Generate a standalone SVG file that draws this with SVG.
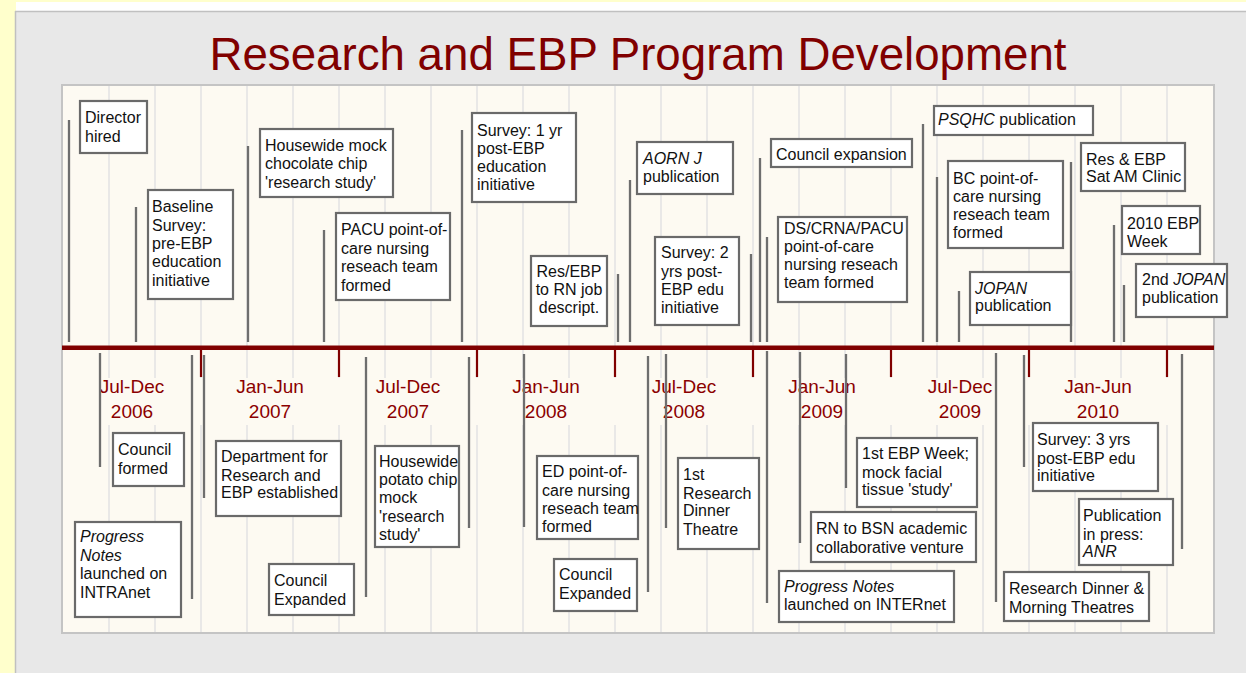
<svg xmlns="http://www.w3.org/2000/svg" width="1246" height="673" viewBox="0 0 1246 673">
<style>
.box{fill:#ffffff;stroke:#6a6a6a;stroke-width:2.2}
.t{font-family:"Liberation Sans",Arial,sans-serif;font-size:16px;fill:#111111}
.it{font-style:italic}
.c{text-anchor:middle}
.ev{stroke:#6e6e6e;stroke-width:2.3;fill:none}
.grid{stroke:#e4e4e4;stroke-width:1.6}
.tick{stroke:#800000;stroke-width:2.2}
.per{font-family:"Liberation Sans",Arial,sans-serif;font-size:19px;fill:#8b0000;text-anchor:middle}
</style>
<rect x="0" y="0" width="1246" height="673" fill="#ffffcc"/>
<rect x="16" y="2" width="1230" height="9" fill="#ffffff"/>
<rect x="16" y="12" width="1230" height="661" fill="#e8e8e8"/>
<line x1="15.5" y1="11" x2="15.5" y2="673" stroke="#c0c0c0" stroke-width="1.5"/>
<line x1="15" y1="11.5" x2="1246" y2="11.5" stroke="#c0c0c0" stroke-width="1.5"/>
<text x="209.5" y="70" textLength="857" lengthAdjust="spacingAndGlyphs" font-family="'Liberation Sans',Arial,sans-serif" font-size="47" fill="#800000">Research and EBP Program Development</text>
<g id="chart-area">
<rect x="62" y="85" width="1152" height="548" fill="#fdfaf2" stroke="#c4c4c4" stroke-width="2"/>
<g id="grid">
<path class="grid" d="M109 86V378M155 86V378M201 86V378M247 86V378M293 86V378M339 86V378M385 86V378M431 86V378M477 86V378M523 86V378M569 86V378M615 86V378M661 86V378M707 86V378M753 86V378M799 86V378M845 86V378M891 86V378M937 86V378M983 86V378M1029 86V378M1075 86V378M1121 86V378M1167 86V378"/>
<path class="grid" d="M109 425V632M155 425V632M201 425V632M247 425V632M293 425V632M339 425V632M385 425V632M431 425V632M477 425V632M523 425V632M569 425V632M615 425V632M661 425V632M707 425V632M753 425V632M799 425V632M845 425V632M891 425V632M937 425V632M983 425V632M1029 425V632M1075 425V632M1121 425V632M1167 425V632"/>
</g>
</g>
<g id="timeline">
<rect x="62" y="345.5" width="1152" height="4.5" fill="#800000"/>
<path class="tick" d="M201 348V377M339 348V377M477 348V377M615 348V377M753 348V377M891 348V377M1029 348V377M1167 348V377"/>
<text class="per" x="132" y="393">Jul-Dec</text><text class="per" x="132" y="418">2006</text>
<text class="per" x="270" y="393">Jan-Jun</text><text class="per" x="270" y="418">2007</text>
<text class="per" x="408" y="393">Jul-Dec</text><text class="per" x="408" y="418">2007</text>
<text class="per" x="546" y="393">Jan-Jun</text><text class="per" x="546" y="418">2008</text>
<text class="per" x="684" y="393">Jul-Dec</text><text class="per" x="684" y="418">2008</text>
<text class="per" x="822" y="393">Jan-Jun</text><text class="per" x="822" y="418">2009</text>
<text class="per" x="960" y="393">Jul-Dec</text><text class="per" x="960" y="418">2009</text>
<text class="per" x="1098" y="393">Jan-Jun</text><text class="per" x="1098" y="418">2010</text>
</g>
<g id="connectors">
<line class="ev" x1="69" y1="120" x2="69" y2="342"/>
<line class="ev" x1="136" y1="207" x2="136" y2="342"/>
<line class="ev" x1="248" y1="146" x2="248" y2="342"/>
<line class="ev" x1="324" y1="230" x2="324" y2="342"/>
<line class="ev" x1="462" y1="130" x2="462" y2="342"/>
<line class="ev" x1="618" y1="274" x2="618" y2="342"/>
<line class="ev" x1="630" y1="180" x2="630" y2="342"/>
<line class="ev" x1="751" y1="254" x2="751" y2="342"/>
<line class="ev" x1="760" y1="158" x2="760" y2="342"/>
<line class="ev" x1="767" y1="237" x2="767" y2="342"/>
<line class="ev" x1="923" y1="124" x2="923" y2="342"/>
<line class="ev" x1="937" y1="177" x2="937" y2="342"/>
<line class="ev" x1="959" y1="291" x2="959" y2="342"/>
<line class="ev" x1="1071" y1="162" x2="1071" y2="342"/>
<line class="ev" x1="1114" y1="225" x2="1114" y2="342"/>
<line class="ev" x1="1124" y1="285" x2="1124" y2="342"/>
<line class="ev" x1="100" y1="353" x2="100" y2="467"/>
<line class="ev" x1="192" y1="355" x2="192" y2="599"/>
<line class="ev" x1="204" y1="355" x2="204" y2="498"/>
<line class="ev" x1="366" y1="357" x2="366" y2="597"/>
<line class="ev" x1="469" y1="357" x2="469" y2="528"/>
<line class="ev" x1="524" y1="354" x2="524" y2="527"/>
<line class="ev" x1="648" y1="356" x2="648" y2="592"/>
<line class="ev" x1="666" y1="354" x2="666" y2="528"/>
<line class="ev" x1="767" y1="351" x2="767" y2="603"/>
<line class="ev" x1="800" y1="352" x2="800" y2="543"/>
<line class="ev" x1="846" y1="354" x2="846" y2="488"/>
<line class="ev" x1="996" y1="353" x2="996" y2="602"/>
<line class="ev" x1="1024" y1="355" x2="1024" y2="467"/>
<line class="ev" x1="1182" y1="354" x2="1182" y2="549"/>
</g>
<g id="n-director"><rect class="box" x="80" y="101" width="67" height="52"/><text class="t" x="85" y="123">Director</text><text class="t" x="85" y="141.5">hired</text></g>
<g id="n-baseline"><rect class="box" x="148" y="190" width="85" height="109"/><text class="t" x="152" y="212">Baseline</text><text class="t" x="152" y="231">Survey:</text><text class="t" x="152" y="249">pre-EBP</text><text class="t" x="152" y="267">education</text><text class="t" x="152" y="286">initiative</text></g>
<g id="n-chocolate"><rect class="box" x="260" y="129" width="133" height="68"/><text class="t" x="265" y="150.5">Housewide mock</text><text class="t" x="265" y="169">chocolate chip</text><text class="t" x="265" y="187.5">'research study'</text></g>
<g id="n-pacu"><rect class="box" x="336" y="213" width="114" height="87"/><text class="t" x="341" y="235">PACU point-of-</text><text class="t" x="341" y="254">care nursing</text><text class="t" x="341" y="272">reseach team</text><text class="t" x="341" y="290.5">formed</text></g>
<g id="n-survey1"><rect class="box" x="472" y="113" width="104" height="89"/><text class="t" x="477" y="136">Survey: 1 yr</text><text class="t" x="477" y="154">post-EBP</text><text class="t" x="477" y="172">education</text><text class="t" x="477" y="190">initiative</text></g>
<g id="n-resebp"><rect class="box" x="531" y="256" width="76" height="70"/><text class="t c" x="569" y="277">Res/EBP</text><text class="t c" x="569" y="295">to RN job</text><text class="t c" x="569" y="313">descript.</text></g>
<g id="n-aorn"><rect class="box" x="637" y="142" width="96" height="52"/><text class="t it" x="643" y="163.5">AORN J</text><text class="t" x="643" y="182">publication</text></g>
<g id="n-survey2"><rect class="box" x="655" y="237" width="84" height="88"/><text class="t" x="661" y="258">Survey: 2</text><text class="t" x="661" y="277">yrs post-</text><text class="t" x="661" y="294.5">EBP edu</text><text class="t" x="661" y="312.5">initiative</text></g>
<g id="n-council-expansion"><rect class="box" x="771" y="139" width="141" height="28"/><text class="t" x="776" y="160">Council expansion</text></g>
<g id="n-ds-crna-pacu"><rect class="box" x="778" y="217" width="129" height="85"/><text class="t" x="784" y="233.5">DS/CRNA/PACU</text><text class="t" x="784" y="252">point-of-care</text><text class="t" x="784" y="269.5">nursing reseach</text><text class="t" x="784" y="288">team formed</text></g>
<g id="n-psqhc"><rect class="box" x="934" y="106" width="159" height="29"/><text class="t" x="938" y="125"><tspan class="it">PSQHC</tspan> publication</text></g>
<g id="n-bc"><rect class="box" x="948" y="161" width="115" height="87"/><text class="t" x="953" y="183.5">BC point-of-</text><text class="t" x="953" y="202">care nursing</text><text class="t" x="953" y="219.5">reseach team</text><text class="t" x="953" y="237.5">formed</text></g>
<g id="n-jopan"><rect class="box" x="970" y="272" width="101" height="53"/><text class="t it" x="975" y="293.5">JOPAN</text><text class="t" x="975" y="311">publication</text></g>
<g id="n-sat-clinic"><rect class="box" x="1081" y="143" width="104" height="48"/><text class="t" x="1086" y="165">Res &amp; EBP</text><text class="t" x="1086" y="182">Sat AM Clinic</text></g>
<g id="n-ebp-week-2010"><rect class="box" x="1122" y="206" width="78" height="48"/><text class="t" x="1127" y="228.5">2010 EBP</text><text class="t" x="1127" y="247">Week</text></g>
<g id="n-jopan2"><rect class="box" x="1136" y="264" width="91" height="53"/><text class="t" x="1142" y="285">2nd <tspan class="it">JOPAN</tspan></text><text class="t" x="1142" y="303">publication</text></g>
<g id="n-council-formed"><rect class="box" x="113" y="433" width="71" height="53"/><text class="t" x="118" y="455">Council</text><text class="t" x="118" y="473.5">formed</text></g>
<g id="n-pn-intranet"><rect class="box" x="75" y="522" width="106" height="95"/><text class="t it" x="80" y="542">Progress</text><text class="t it" x="80" y="561">Notes</text><text class="t" x="80" y="578.5">launched on</text><text class="t" x="80" y="597.5">INTRAnet</text></g>
<g id="n-department"><rect class="box" x="216" y="441" width="125" height="75"/><text class="t" x="221" y="462">Department for</text><text class="t" x="221" y="481">Research and</text><text class="t" x="221" y="498">EBP established</text></g>
<g id="n-council-expanded-2007"><rect class="box" x="269" y="564" width="85" height="51"/><text class="t" x="274" y="586">Council</text><text class="t" x="274" y="604.5">Expanded</text></g>
<g id="n-potato"><rect class="box" x="375" y="446" width="84" height="101"/><text class="t" x="379" y="467">Housewide</text><text class="t" x="379" y="485">potato chip</text><text class="t" x="379" y="503">mock</text><text class="t" x="379" y="522">'research</text><text class="t" x="379" y="540">study'</text></g>
<g id="n-ed"><rect class="box" x="537" y="456" width="101" height="83"/><text class="t" x="542" y="477">ED point-of-</text><text class="t" x="542" y="496">care nursing</text><text class="t" x="542" y="513.5">reseach team</text><text class="t" x="542" y="532">formed</text></g>
<g id="n-council-expanded-2008"><rect class="box" x="554" y="559" width="83" height="52"/><text class="t" x="559" y="580">Council</text><text class="t" x="559" y="598.5">Expanded</text></g>
<g id="n-dinner-theatre"><rect class="box" x="678" y="458" width="81" height="91"/><text class="t" x="683" y="480">1st</text><text class="t" x="683" y="499">Research</text><text class="t" x="683" y="516">Dinner</text><text class="t" x="683" y="534.5">Theatre</text></g>
<g id="n-pn-internet"><rect class="box" x="779" y="571" width="175" height="51"/><text class="t it" x="784" y="592">Progress Notes</text><text class="t" x="784" y="610">launched on INTERnet</text></g>
<g id="n-rn-bsn"><rect class="box" x="811" y="512" width="165" height="50"/><text class="t" x="816" y="534">RN to BSN academic</text><text class="t" x="816" y="553">collaborative venture</text></g>
<g id="n-ebp-week-1"><rect class="box" x="857" y="438" width="120" height="69"/><text class="t" x="862" y="459">1st EBP Week;</text><text class="t" x="862" y="478">mock facial</text><text class="t" x="862" y="495">tissue 'study'</text></g>
<g id="n-survey3"><rect class="box" x="1033" y="423" width="125" height="68"/><text class="t" x="1037" y="445">Survey: 3 yrs</text><text class="t" x="1037" y="463.5">post-EBP edu</text><text class="t" x="1037" y="481">initiative</text></g>
<g id="n-dinner-morning"><rect class="box" x="1004" y="572" width="145" height="49"/><text class="t" x="1009" y="593.5">Research Dinner &amp;</text><text class="t" x="1009" y="612.5">Morning Theatres</text></g>
<g id="n-press"><rect class="box" x="1079" y="499" width="94" height="66"/><text class="t" x="1083" y="521">Publication</text><text class="t" x="1083" y="539.5">in press:</text><text class="t it" x="1083" y="557">ANR</text></g>
</svg>
